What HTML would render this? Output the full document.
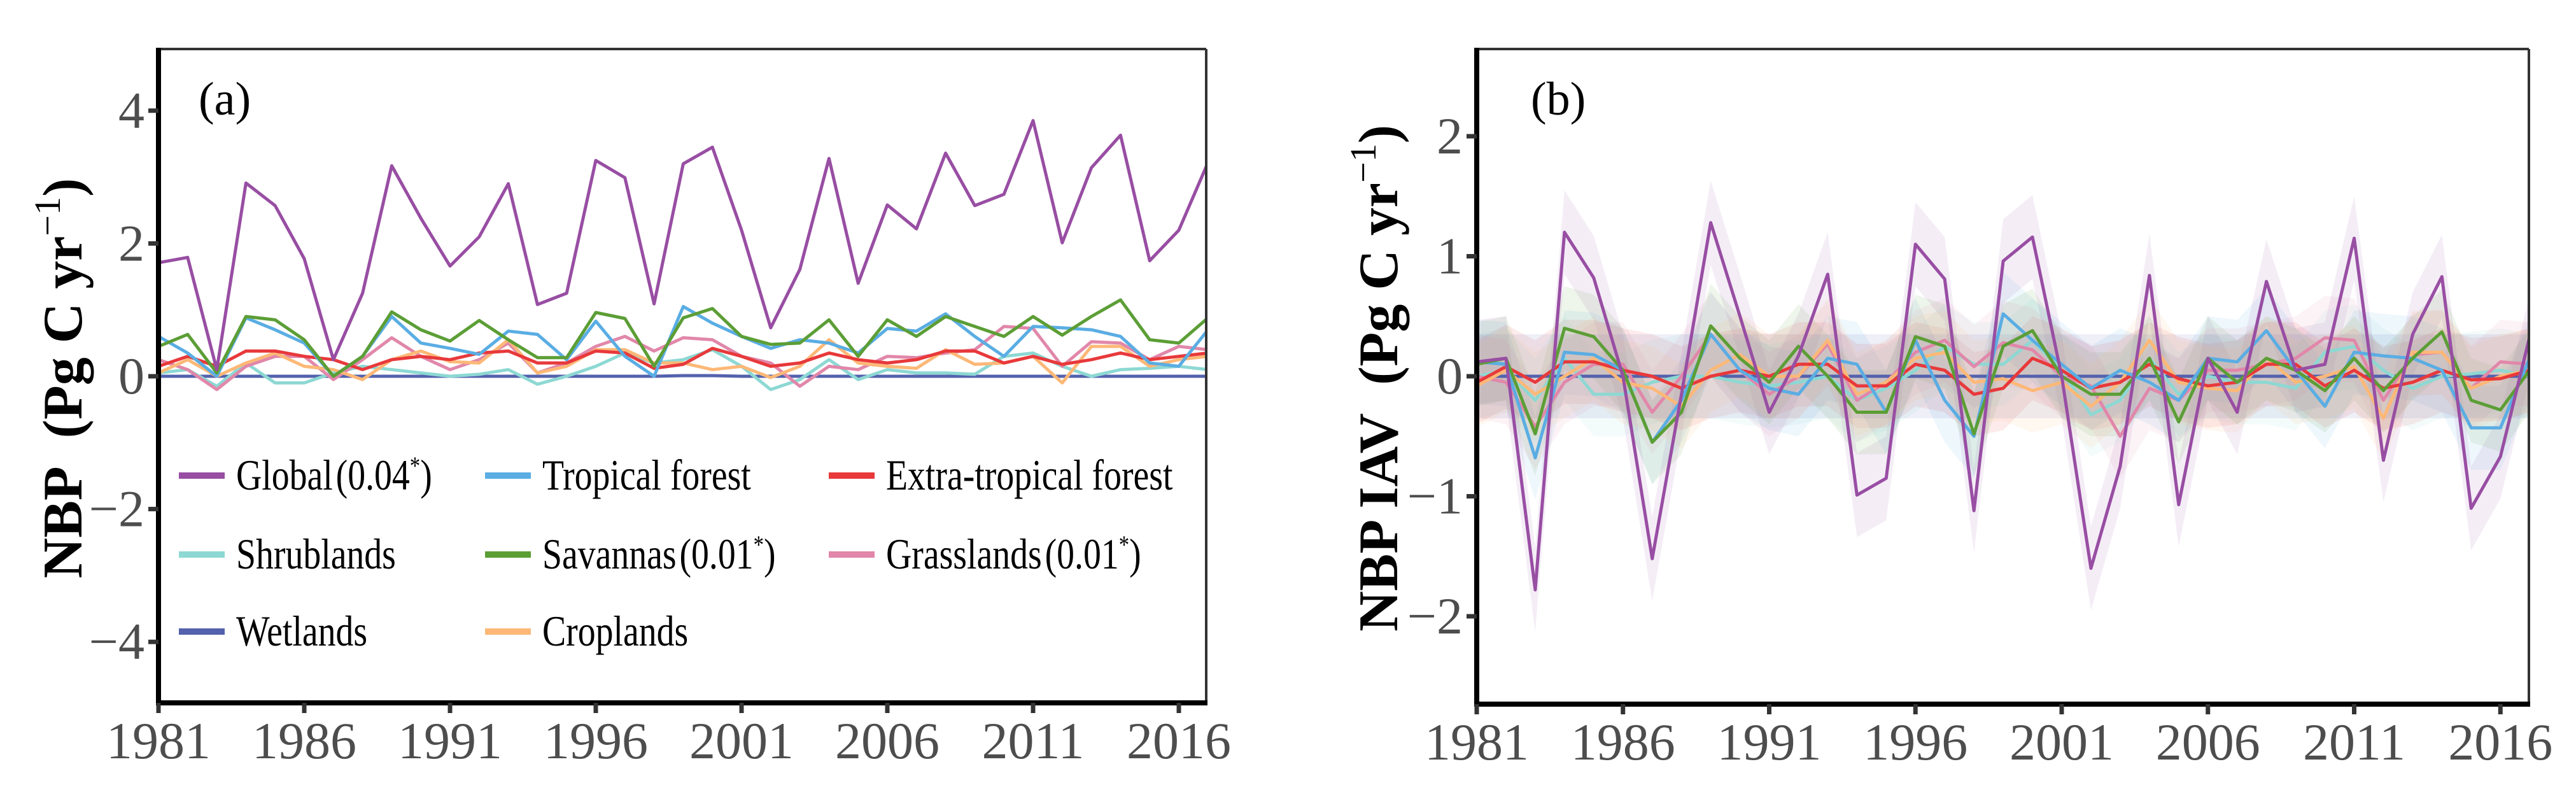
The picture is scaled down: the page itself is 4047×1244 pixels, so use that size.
<!DOCTYPE html>
<html><head><meta charset="utf-8"><style>
html,body{margin:0;padding:0;background:#fff;}
svg{display:block;}
svg text{font-family:"Liberation Serif",serif;}
</style></head><body>
<svg id="fig" width="4047" height="1244" viewBox="0 0 4047 1244" xmlns="http://www.w3.org/2000/svg" font-family="Liberation Serif, serif">
<rect width="4047" height="1244" fill="#fff"/>
<g id="pa"></g>
<g id="pb"></g>
</svg>
<script>
const years = [];
for (let y = 1981; y <= 2017; y++) years.push(y);
const xTicks = [1981,1986,1991,1996,2001,2006,2011,2016];
const yTicksA = [-4,-2,0,2,4];
const yTicksB = [-2,-1,0,1,2];
const seriesNames = ["Global","Tropical forest","Extra-tropical forest","Shrublands","Savannas","Grasslands","Wetlands","Croplands"];
const seriesColors = ["#984ea3","#5aade3","#e8393b","#8dd8d3","#5c9e36","#e187aa","#5462ad","#fdb877"];
// Panel (a) NBP
const nbpGlobal = [1.71,1.79,0.1,2.91,2.57,1.77,0.25,1.25,3.17,2.38,1.66,2.10,2.90,1.08,1.25,3.25,2.99,1.09,3.2,3.45,2.2,0.73,1.61,3.28,1.40,2.58,2.22,3.36,2.57,2.74,3.85,2.01,3.14,3.63,1.74,2.20,3.22];
const nbpTropical = [0.6,0.35,0.0,0.88,0.7,0.5,0.0,0.3,0.9,0.5,0.42,0.33,0.68,0.63,0.25,0.83,0.3,0.0,1.05,0.8,0.6,0.42,0.55,0.5,0.35,0.72,0.68,0.94,0.6,0.3,0.75,0.73,0.7,0.6,0.2,0.15,0.7];
const nbpExtra = [0.15,0.3,0.15,0.38,0.38,0.3,0.25,0.1,0.25,0.3,0.25,0.35,0.38,0.2,0.2,0.38,0.35,0.12,0.18,0.42,0.3,0.15,0.2,0.35,0.25,0.2,0.25,0.38,0.38,0.2,0.3,0.18,0.25,0.35,0.25,0.3,0.35];
const nbpShrub = [0.05,0.1,-0.15,0.2,-0.1,-0.1,0.05,0.15,0.1,0.05,0.0,0.03,0.1,-0.12,0.0,0.15,0.35,0.2,0.25,0.4,0.15,-0.2,-0.05,0.25,-0.05,0.1,0.05,0.05,0.03,0.3,0.35,0.15,0.0,0.1,0.12,0.15,0.1];
const nbpSavanna = [0.45,0.63,0.05,0.9,0.85,0.55,0.0,0.3,0.97,0.7,0.53,0.84,0.55,0.28,0.28,0.96,0.87,0.15,0.88,1.02,0.6,0.48,0.5,0.85,0.3,0.85,0.6,0.9,0.75,0.6,0.9,0.62,0.9,1.15,0.55,0.5,0.88];
const nbpGrass = [0.25,0.1,-0.2,0.15,0.3,0.3,-0.05,0.25,0.58,0.3,0.1,0.25,0.5,0.05,0.2,0.45,0.6,0.38,0.58,0.55,0.3,0.2,-0.15,0.15,0.1,0.3,0.28,0.35,0.4,0.75,0.72,0.15,0.52,0.5,0.25,0.45,0.4];
const nbpWet = [0,0,0,0,0,0,0,0,0,0,0,0,0,0,0,0,0,0,0.01,0.01,0,0,0,0,0,0,0,0,0,0,0,0,0,0,0,0,0];
const nbpCrop = [0.05,0.25,0.0,0.2,0.35,0.15,0.1,-0.05,0.25,0.38,0.22,0.2,0.55,0.05,0.15,0.4,0.4,0.2,0.2,0.1,0.15,-0.02,0.15,0.55,0.2,0.15,0.12,0.4,0.18,0.2,0.3,-0.1,0.45,0.45,0.15,0.25,0.3];
// Panel (b) NBP IAV
const iavGlobal = [0.12,0.15,-1.78,1.2,0.82,0.0,-1.52,-0.15,1.28,0.5,-0.3,0.17,0.85,-0.99,-0.85,1.1,0.81,-1.12,0.96,1.16,0.0,-1.6,-0.75,0.84,-1.07,0.15,-0.3,0.79,0.05,0.1,1.15,-0.7,0.35,0.83,-1.1,-0.67,0.33];
const iavTropical = [0.12,0.1,-0.68,0.2,0.18,0.05,-0.55,-0.2,0.35,0.05,-0.1,-0.15,0.15,0.1,-0.3,0.3,-0.2,-0.5,0.52,0.3,0.1,-0.1,0.05,-0.05,-0.2,0.15,0.12,0.38,0.05,-0.25,0.2,0.17,0.15,0.05,-0.43,-0.43,0.15];
const iavExtra = [-0.05,0.08,-0.05,0.12,0.12,0.05,0.0,-0.1,0.0,0.05,0.0,0.1,0.1,-0.08,-0.08,0.1,0.05,-0.15,-0.1,0.15,0.05,-0.1,-0.05,0.1,-0.02,-0.08,-0.05,0.1,0.1,-0.08,0.05,-0.1,-0.05,0.05,-0.03,-0.02,0.05];
const iavShrub = [0.0,0.05,-0.2,0.15,-0.15,-0.15,-0.05,0.0,0.0,-0.05,-0.08,-0.05,0.0,-0.2,-0.1,0.05,0.25,0.1,0.1,0.3,0.05,-0.32,-0.2,0.15,-0.15,0.0,-0.05,-0.05,-0.1,0.2,0.25,0.05,-0.1,0.0,0.02,0.05,0.0];
const iavSavanna = [0.1,0.15,-0.48,0.4,0.33,0.05,-0.55,-0.3,0.42,0.15,-0.05,0.25,0.0,-0.3,-0.3,0.33,0.25,-0.48,0.25,0.38,0.0,-0.15,-0.15,0.15,-0.38,0.15,-0.05,0.15,0.05,-0.12,0.15,-0.12,0.15,0.37,-0.2,-0.28,0.05];
const iavGrass = [0.0,-0.05,-0.42,-0.05,0.1,0.1,-0.3,0.0,0.35,0.05,-0.15,0.0,0.27,-0.2,-0.05,0.2,0.3,0.08,0.28,0.22,0.0,-0.08,-0.5,-0.1,-0.2,0.05,0.05,0.1,0.15,0.32,0.3,-0.2,0.18,0.2,-0.1,0.12,0.1];
const iavWet = [0,0,0,0,0,0,0,0,0,0,0,0,0,0,0,0,0,0,0,0,0,0,0,0,0,0,0,0,0,0,0,0,0,0,0,0,0];
const iavCrop = [-0.08,0.05,-0.15,0.0,0.15,-0.05,-0.1,-0.25,0.05,0.18,0.0,0.0,0.3,-0.15,-0.05,0.15,0.2,-0.05,-0.02,-0.12,-0.05,-0.25,-0.05,0.3,-0.05,-0.1,-0.12,0.15,-0.05,0.0,0.08,-0.35,0.2,0.2,-0.1,0.0,0.05];
const iavBand = [0.35,0.35,0.35,0.35,0.35,0.35,0.35,0.35];

const NS = "http://www.w3.org/2000/svg";
const FF = "Liberation Serif, serif";
function mk(tag, attrs, parent){const e=document.createElementNS(NS,tag);for(const k in attrs)e.setAttribute(k,attrs[k]);parent.appendChild(e);return e;}

function panel(g, cfg){
  const xs = y => cfg.x0 + (y-1981)*cfg.px;
  const ys = v => cfg.y0 - v*cfg.py;
  const clip = mk("clipPath",{id:cfg.id+"clip"},g);
  mk("rect",{x:cfg.L,y:cfg.T,width:cfg.R-cfg.L,height:cfg.B-cfg.T},clip);
  const plot = mk("g",{"clip-path":"url(#"+cfg.id+"clip)"},g);
  
  
  if (cfg.band) {
    cfg.series.forEach((s,i)=>{
      let up = s.map((v,j)=>xs(years[j])+","+ys(v+cfg.band[i])).join(" ");
      let dn = s.map((v,j)=>xs(years[j])+","+ys(v-cfg.band[i])).reverse().join(" ");
      const p = mk("polygon",{points:up+" "+dn,fill:seriesColors[i],"fill-opacity":0.1,stroke:"none"},plot);
      
      
    });
  }
  const order = [6,3,5,7,2,1,4,0];
  order.forEach(i=>{
    const s = cfg.series[i];
    const pts = s.map((v,j)=>xs(years[j])+","+ys(v)).join(" ");
    const l = mk("polyline",{points:pts,fill:"none",stroke:seriesColors[i],"stroke-width":cfg.lw,"stroke-linejoin":"round"},plot);
    
    
  });
  mk("line",{x1:cfg.L,y1:cfg.T,x2:cfg.R,y2:cfg.T,stroke:"#333","stroke-width":4},g);
  mk("line",{x1:cfg.R,y1:cfg.T,x2:cfg.R,y2:cfg.B,stroke:"#333","stroke-width":4},g);
  const ya = mk("line",{x1:cfg.L,y1:cfg.T-2,x2:cfg.L,y2:cfg.B+4,stroke:"#000","stroke-width":8},g);
  
  
  const xa = mk("line",{x1:cfg.L-4,y1:cfg.B,x2:cfg.R+2,y2:cfg.B,stroke:"#000","stroke-width":8},g);
  
  
  xTicks.forEach(t=>{
    const x = xs(t);
    mk("line",{x1:x,y1:cfg.B,x2:x,y2:cfg.B+16,stroke:"#333","stroke-width":7},g);
    const tx = mk("text",{x:x,y:cfg.B+87,"font-size":82,"font-family":FF,fill:"#4d4d4d","text-anchor":"middle"},g);
    tx.textContent = t;
    
    
  });
  cfg.yt.forEach(t=>{
    const y = ys(t);
    mk("line",{x1:cfg.L-16,y1:y,x2:cfg.L,y2:y,stroke:"#333","stroke-width":7},g);
    const tx = mk("text",{x:cfg.L-22,y:y+27,"font-size":82,"font-family":FF,fill:"#4d4d4d","text-anchor":"end"},g);
    tx.textContent = t<0 ? "\u2212"+Math.abs(t) : t;
    
    
  });
  const pl = mk("text",{x:cfg.labX,y:180,"font-size":74,"font-family":FF,fill:"#000"},g);
  pl.textContent = cfg.tag;
  
  
  const yl = mk("text",{transform:"translate("+cfg.ylX+","+cfg.ylY+") rotate(-90)","font-size":88,"font-family":FF,"font-weight":"bold",fill:"#000","text-anchor":"middle"},g);
  
  
  const t1 = mk("tspan",{},yl); t1.textContent = cfg.ytitle+"\u00a0\u00a0(Pg C yr";
  const t2 = mk("tspan",{dy:-34,"font-size":58,"font-weight":"normal"},yl); t2.textContent = "\u22121";
  const t3 = mk("tspan",{dy:34},yl); t3.textContent = ")";
}

panel(document.getElementById("pa"),{id:"a",L:249,R:1895,T:77,B:1104,x0:249,px:45.8,y0:591,py:104.3,lw:5,
  series:[nbpGlobal,nbpTropical,nbpExtra,nbpShrub,nbpSavanna,nbpGrass,nbpWet,nbpCrop],band:null,yt:yTicksA,
  tag:"(a)",labX:312,ylX:128,ylY:594,ytitle:"NBP"});
panel(document.getElementById("pb"),{id:"b",L:2320,R:3973,T:77,B:1106,x0:2320,px:45.95,y0:591,py:188.5,lw:5,
  series:[iavGlobal,iavTropical,iavExtra,iavShrub,iavSavanna,iavGrass,iavWet,iavCrop],band:iavBand,yt:yTicksB,
  tag:"(b)",labX:2405,ylX:2195,ylY:594,ytitle:"NBP IAV"});

const lg = document.getElementById("pa");
const legendLabels = ["Global","Tropical forest","Extra-tropical forest","Shrublands","Savannas","Grasslands","Wetlands","Croplands"];
const legendStats = ["0.04","","","","0.01","0.01","",""];
const legCols = [281,762,1302];
const legRows = [747,871,992];
legendLabels.forEach((name,i)=>{
  const c = i%3, r = Math.floor(i/3);
  const g = mk("g",{},lg);
  
  
  mk("line",{x1:legCols[c],y1:legRows[r],x2:legCols[c]+72,y2:legRows[r],stroke:seriesColors[i],"stroke-width":10},g);
  const tx = legCols[c]+90;
  const t = mk("text",{x:0,y:0,transform:"translate("+tx+","+(legRows[r]+22)+") scale(0.82,1)","font-size":68,"font-family":FF,fill:"#000"},g);
  const a = mk("tspan",{},t); a.textContent = name;
  if (legendStats[i]) {
    const b = mk("tspan",{dx:6},t); b.textContent = "("+legendStats[i];
    const s = mk("tspan",{dy:-24,"font-size":40},t); s.textContent = "*";
    const e = mk("tspan",{dy:24},t); e.textContent = ")";
  }
});
</script>
</body></html>
